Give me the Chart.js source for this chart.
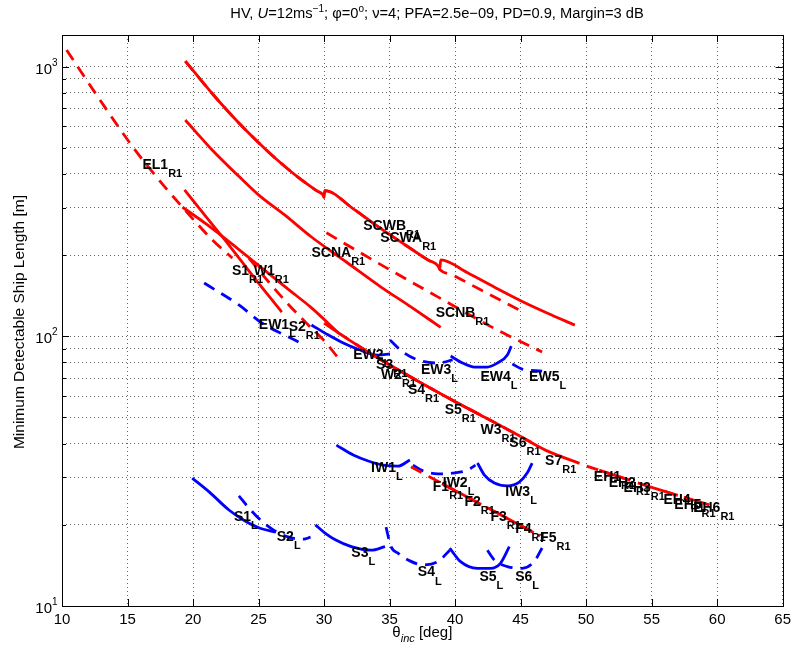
<!DOCTYPE html>
<html><head><meta charset="utf-8">
<script src="https://cdn.jsdelivr.net/npm/chart.js@4.4.1/dist/chart.umd.min.js"></script>
<style>html,body{margin:0;padding:0;background:#fff;}#wrap{width:796px;height:651px;}</style>
</head><body><div id="wrap"><canvas id="c" width="796" height="651"></canvas></div>
<script>
// ---------- axis ticks ----------
const xTickValues = [10,15,20,25,30,35,40,45,50,55,60,65];
const yTickValues = [10,20,30,40,50,60,70,80,90,100,200,300,400,500,600,700,800,900,1000];
const yLabelledTicks = [10,100,1000];
const yTickBase = '10';
const yTickExponents = ['1','2','3'];

// ---------- red curves (R1) : [incidence deg, min ship length m] ----------
const EL1_R1  = [[10.35,1152],[12.9,752],[15.4,504],[17.4,380],[19.2,301],[21.5,227],[23.0,195]];
const SCWA_R1 = [[19.41,1049],[21.46,795],[23.5,618],[25.55,493],[26.99,427],[28.28,380],[29.42,347],[29.9,335],[30.0,327],[30.06,347],[32.23,297],[34.12,255],[36.02,221],[37.92,192],[38.75,181],[38.83,177],[38.9,192],[40.95,172],[43.23,150],[45.12,134.6],[47.02,122],[49.14,110]];
const SCWB_R1 = [[19.41,1049],[21.46,795],[23.5,618],[25.55,493],[26.99,427],[28.28,380],[29.42,347],[29.9,335],[30.0,327],[30.06,347],[32.23,297],[34.12,255],[36.02,221],[37.92,192],[38.75,181],[38.83,177],[39.66,170],[41.26,155],[45.05,124]];
const SCNA_R1 = [[19.41,634],[21.46,491],[23.5,392],[25.02,334],[26.99,282],[29.04,233.5],[31.7,188.6],[34.35,152.3],[36.63,128.5],[38.9,108]];
const SCNB_R1 = [[30.18,242],[34.12,187],[38.68,140],[43.23,105.5],[46.64,87.5]];
const S1_R1   = [[19.35,349],[21.0,277],[22.74,218],[24.5,169],[26.77,123]];
const W1_R1   = [[19.2,301],[21.0,261],[24.26,196],[27.3,149],[29.0,128],[31.09,103]];
const S2_R1   = [[24.26,195],[25.78,159],[27.3,131],[28.81,110],[29.95,97],[31.01,84]];
const S3_R1   = [[30.0,112],[31.09,103],[34.12,83],[37.0,69]];
const W2_R1   = [[31.09,103],[34.12,83],[37.16,68.2],[39.0,60.9]];
const S4_R1   = [[34.12,83],[37.16,68.2],[40.0,57.2]];
const S5_R1   = [[36.0,73.6],[37.16,68.2],[40.19,56.6],[42.0,50.9]];
const W3_R1   = [[39.0,60.9],[40.19,56.6],[43.23,47.3],[45.0,42.5]];
const S6_R1   = [[41.0,54.0],[43.23,47.3],[46.0,40.0]];
const S7_R1   = [[45.0,42.5],[47.02,37.6],[49.5,33.8]];
const EH1_R1  = [[50.05,33.0],[52.0,30.7]];
const EH2_R1  = [[51.0,31.9],[53.0,29.6]];
const EH3_R1  = [[52.5,30.2],[55.0,27.5]];
const EH4_R1  = [[54.5,28.0],[57.0,25.7]];
const EH5_R1  = [[56.0,26.6],[58.0,24.8]];
const EH6_R1  = [[57.5,25.3],[59.4,23.7]];
const F1_R1   = [[36.63,32.8],[38.0,30.2],[40.0,26.8]];
const F2_R1   = [[39.0,28.4],[40.5,26.0],[42.0,23.8]];
const F3_R1   = [[41.0,25.2],[42.5,23.1],[44.0,21.1]];
const F4_R1   = [[43.0,22.4],[44.5,20.5],[46.0,18.7]];
const F5_R1   = [[45.0,19.9],[46.5,18.2]];

// ---------- blue curves (L) ----------
const EW1_L = [[20.85,157.6],[23.5,130.7],[25.25,112.0],[27.3,99.4],[28.05,95.3]];
const EW2_L = [[29.04,110.1],[30.33,101.1],[31.47,94.5],[32.61,89.5],[34.12,85.2],[35.03,86.0]];
const EW3_L = [[35.03,96.9],[36.02,87.4],[37.16,81.7],[38.68,79.6],[39.81,81.7]];
const EW4_L = [[39.66,84.5],[40.57,79.6],[41.48,76.9],[42.47,76.9],[43.23,79.6],[43.99,85.2],[44.29,92.0]];
const EW5_L = [[44.37,78.9],[45.12,75.6],[46.64,74.3]];
const IW1_L = [[30.94,39.5],[32.23,36.3],[33.37,34.5],[34.5,33.3],[35.64,33.0],[36.55,34.8]];
const IW2_L = [[36.78,33.3],[37.54,31.7],[38.68,30.9],[39.81,31.1],[40.95,31.9],[41.56,33.3]];
const IW3_L = [[41.71,33.9],[42.24,30.6],[43.0,28.6],[43.99,27.9],[44.9,28.8],[45.5,31.1],[45.88,33.9]];
const S1_L  = [[19.94,29.8],[21.23,26.5],[22.74,22.7],[23.88,20.8],[25.02,19.5],[26.31,18.8]];
const S2_L  = [[23.5,25.6],[24.26,23.1],[25.17,20.8],[26.16,19.1],[27.3,18.0],[28.43,17.7],[28.97,18.0]];
const S3_L  = [[29.34,20.0],[30.1,18.6],[30.86,17.6],[32.08,16.6],[33.59,16.1],[34.65,16.6]];
const S4_L  = [[34.73,19.6],[35.11,16.6],[35.64,15.7],[36.55,14.7],[37.54,14.2],[38.68,14.6],[39.59,16.1]];
const S5_L  = [[39.59,16.4],[40.42,14.6],[41.71,13.8],[42.7,13.8],[43.46,14.4],[44.14,16.6]];
const S6_L  = [[42.47,16.1],[43.0,14.8],[43.99,14.0],[45.12,13.8],[46.03,14.6],[46.64,16.4]];

// ---------- beam labels: [name, subscript, x anchor (deg), y anchor (m)] ----------
const beamLabels = [
 ['EL1','R1',16.14,431],['SCWB','R1',32.99,256],['SCWA','R1',34.28,231],['SCNA','R1',29.04,204],
 ['SCNB','R1',38.52,122],['S1','R1',22.97,174.6],['W1','R1',24.64,174.6],['EW1','L',25.02,110],
 ['S2','R1',27.3,108.3],['EW2','L',32.23,85.2],['S3','R1',33.97,78.3],['W2','R1',34.35,71.9],
 ['S4','R1',36.4,63.2],['S5','R1',39.21,53.3],['W3','R1',41.94,44.9],['S6','R1',44.14,40.2],
 ['S7','R1',46.87,34.5],['EH1','R1',50.59,30.1],['EH2','R1',51.72,28.6],['EH3','R1',52.86,27.4],
 ['EH4','R1',55.9,24.7],['EH5','R1',56.73,23.7],['EH6','R1',58.17,23.1],['EW3','L',37.39,75.0],
 ['EW4','L',41.94,70.6],['EW5','L',45.65,70.6],['IW1','L',33.59,32.5],['F1','R1',38.3,27.6],
 ['IW2','L',39.06,28.6],['IW3','L',43.83,26.5],['F2','R1',40.72,24.3],['F3','R1',42.7,21.4],
 ['F4','R1',44.59,19.3],['F5','R1',46.49,17.9],['S1','L',23.12,21.4],['S2','L',26.39,18.0],
 ['S3','L',32.08,15.7],['S4','L',37.16,13.3],['S5','L',41.86,12.8],['S6','L',44.59,12.8]
];

// ---------- styles ----------
const RED = '#ff0000', BLUE = '#0000ff';
const DASH = [12, 8];
const FONT = '"Liberation Sans", Arial, Helvetica, sans-serif';
const curves = [
 [EL1_R1,RED,true],[SCWA_R1,RED,false],[SCWB_R1,RED,true],[SCNA_R1,RED,false],[SCNB_R1,RED,true],
 [S1_R1,RED,false],[W1_R1,RED,false],[S2_R1,RED,true],[S3_R1,RED,false],[W2_R1,RED,true],
 [S4_R1,RED,true],[S5_R1,RED,false],[W3_R1,RED,false],[S6_R1,RED,true],[S7_R1,RED,false],
 [EH1_R1,RED,true],[EH2_R1,RED,false],[EH3_R1,RED,true],[EH4_R1,RED,false],[EH5_R1,RED,true],[EH6_R1,RED,false],
 [F1_R1,RED,true],[F2_R1,RED,false],[F3_R1,RED,true],[F4_R1,RED,false],[F5_R1,RED,true],
 [EW1_L,BLUE,true],[EW2_L,BLUE,false],[EW3_L,BLUE,true],[EW4_L,BLUE,false],[EW5_L,BLUE,true],
 [IW1_L,BLUE,false],[IW2_L,BLUE,true],[IW3_L,BLUE,false],
 [S1_L,BLUE,false],[S2_L,BLUE,true],[S3_L,BLUE,false],[S4_L,BLUE,true],[S5_L,BLUE,false],[S6_L,BLUE,true]
];

const datasets = curves.map(c => ({
  data: c[0].map(p => ({x: p[0], y: p[1]})),
  borderColor: c[1], borderWidth: 2.8,
  borderDash: c[2] ? DASH : [],
  pointRadius: 0, fill: false,
  cubicInterpolationMode: 'monotone'
}));

function drawRich(ctx, pieces, x, y, align) {
  let w = 0;
  pieces.forEach(p => { ctx.font = p[1]; w += ctx.measureText(p[0]).width; });
  let cx = align === 'center' ? x - w / 2 : x;
  pieces.forEach(p => { ctx.font = p[1]; ctx.fillText(p[0], cx, y + (p[2] || 0)); cx += ctx.measureText(p[0]).width; });
}

const axesPlugin = {
  id: 'axesBox',
  beforeDatasetsDraw(chart) {
    const {ctx, chartArea: {left, right, top, bottom}, scales: {x, y}} = chart;
    ctx.save();
    ctx.strokeStyle = '#000'; ctx.lineWidth = 1; ctx.setLineDash([]);
    ctx.beginPath();
    xTickValues.forEach(v => {
      const px = Math.round(x.getPixelForValue(v)) + 0.5;
      ctx.moveTo(px, bottom); ctx.lineTo(px, bottom - 7);
      ctx.moveTo(px, top); ctx.lineTo(px, top + 7);
    });
    yTickValues.forEach(v => {
      const py = Math.round(y.getPixelForValue(v)) + 0.5;
      const len = yLabelledTicks.includes(v) ? 7 : 4;
      ctx.moveTo(left, py); ctx.lineTo(left + len, py);
      ctx.moveTo(right, py); ctx.lineTo(right - len, py);
    });
    ctx.stroke();
    ctx.strokeRect(Math.round(left) + 0.5, Math.round(top) + 0.5, Math.round(right - left), Math.round(bottom - top));
    // y tick labels 10^n
    ctx.fillStyle = '#000';
    ctx.textBaseline = 'alphabetic';
    yLabelledTicks.forEach((v, i) => {
      const py = y.getPixelForValue(v);
      ctx.font = '15px ' + FONT; ctx.textAlign = 'right';
      ctx.fillText(yTickBase, left - 10, py + 7);
      ctx.font = '10px ' + FONT; ctx.textAlign = 'left';
      ctx.fillText(yTickExponents[i], left - 10, py - 1);
    });
    ctx.restore();
  }
};

const textPlugin = {
  id: 'texts',
  afterDatasetsDraw(chart) {
    const {ctx, scales: {x, y}} = chart;
    ctx.save();
    ctx.fillStyle = '#000';
    ctx.textAlign = 'left'; ctx.textBaseline = 'middle';
    beamLabels.forEach(l => {
      const px = x.getPixelForValue(l[2]), py = y.getPixelForValue(l[3]);
      ctx.font = 'bold 14px ' + FONT;
      ctx.fillText(l[0], px, py);
      const w = ctx.measureText(l[0]).width;
      ctx.font = 'bold 11px ' + FONT;
      ctx.fillText(l[1], px + w, py + 9);
    });
    // title
    ctx.textBaseline = 'alphabetic';
    const n = '14.7px ' + FONT, it = 'italic 14.7px ' + FONT, sm = '10px ' + FONT;
    const ca = chart.chartArea;
    drawRich(ctx, [['HV, ', n], ['U', it], ['=12ms', n], ['\u22121', sm, -6],
      ['; \u03C6=0', n], ['o', sm, -6], ['; \u03BD=4; PFA=2.5e\u221209, PD=0.9, Margin=3 dB', n]], 437, 18, 'center');
    // x axis title
    const ax = '15px ' + FONT;
    drawRich(ctx, [['\u03B8', ax], ['inc', 'italic 11px ' + FONT, 5], [' [deg]', ax]], (ca.left + ca.right) / 2, 637, 'center');
    // y axis title
    ctx.translate(24, 322);
    ctx.rotate(-Math.PI / 2);
    ctx.textAlign = 'center';
    ctx.font = '15.5px ' + FONT;
    ctx.fillText('Minimum Detectable Ship Length [m]', 0, 0);
    ctx.restore();
  }
};

new Chart(document.getElementById('c'), {
  type: 'line',
  data: {datasets},
  options: {
    responsive: false, devicePixelRatio: 1, animation: false,
    layout: {padding: {left: 0, right: 9, top: 35, bottom: 0}},
    plugins: {legend: {display: false}, tooltip: {enabled: false}, title: {display: false}},
    scales: {
      x: {
        type: 'linear', min: 10, max: 65,
        afterBuildTicks: s => { s.ticks = xTickValues.map(v => ({value: v})); },
        ticks: {color: '#000', font: {family: FONT, size: 15}, padding: 5, maxRotation: 0, autoSkip: false},
        grid: {color: 'rgba(0,0,0,0.6)', lineWidth: 1, drawTicks: false},
        border: {display: false, dash: [1, 3]},
        afterFit: s => { s.height = 45; }
      },
      y: {
        type: 'logarithmic', min: 10, max: 1310,
        afterBuildTicks: s => { s.ticks = yTickValues.map(v => ({value: v})); },
        ticks: {display: false},
        grid: {color: 'rgba(0,0,0,0.6)', lineWidth: 1, drawTicks: false},
        border: {display: false, dash: [1, 3]},
        afterFit: s => { s.width = 62; }
      }
    }
  },
  plugins: [axesPlugin, textPlugin]
});
</script></body></html>
